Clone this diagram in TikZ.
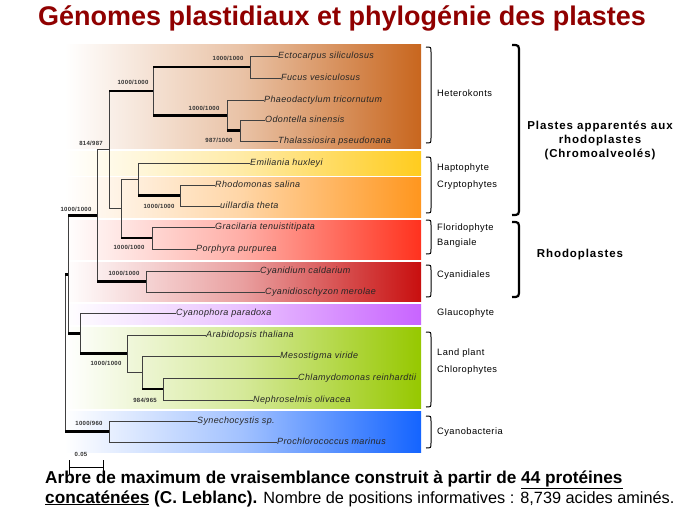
\documentclass[tikz,border=0pt]{standalone}
\usepackage{fontspec}
\setmainfont{Liberation Sans}
\newfontfamily\specfont[LetterSpace=4]{Liberation Sans}
\newfontfamily\grpfont[LetterSpace=5]{Liberation Sans}
\newfontfamily\bigfont[LetterSpace=8]{Liberation Sans}
\newfontfamily\supfont[LetterSpace=5]{Liberation Sans}
\usetikzlibrary{calc}
\definecolor{titlered}{HTML}{900000}
\definecolor{cHet}{HTML}{C8661E}
\definecolor{cHap}{HTML}{FFCC1E}
\definecolor{cCry}{HTML}{FF961E}
\definecolor{cFlo}{HTML}{FF321E}
\definecolor{cCyd}{HTML}{C80F0F}
\definecolor{cGla}{HTML}{C864FF}
\definecolor{cGrn}{HTML}{96C800}
\definecolor{cCyb}{HTML}{1464FF}
\definecolor{branch}{HTML}{404040}
\tikzset{
  band/.style={left color=white, right color=#1, middle color=#1!40!white},
  leaf/.style={font=\specfont\itshape\fontsize{9}{10}\selectfont, anchor=base west, inner sep=0pt, yshift=-2.5pt, text=black!85},
  sup/.style={font=\supfont\bfseries\fontsize{6}{7}\selectfont, inner sep=0pt, text=black!80},
  grp/.style={font=\grpfont\fontsize{9.3}{11}\selectfont, anchor=west, inner sep=0pt},
  bigl/.style={font=\bigfont\bfseries\fontsize{11.5}{14}\selectfont, align=center, inner sep=0pt},
  thk/.style={line width=2.6pt, black},
  thn/.style={line width=0.9pt, branch},
  vl/.style={line width=0.9pt, branch},
  brk/.style={line width=1pt, black},
  bigbrk/.style={line width=2.2pt, black},
}
\begin{document}
\begin{tikzpicture}[x=1pt,y=-1pt]
\useasboundingbox[fill=white] (0,0) rectangle (689,517);
% colour bands
\shade[band=cHet] (65,44) rectangle (421,148);
\shade[band=cHap] (65,151) rectangle (421,175);
\shade[band=cCry] (65,177) rectangle (421,217);
\shade[band=cFlo] (65,220) rectangle (421,259);
\shade[band=cCyd] (65,262) rectangle (421,301);
\shade[band=cGla] (65,304) rectangle (421,324);
\shade[band=cGrn] (65,327) rectangle (421,408);
\shade[band=cCyb] (65,411) rectangle (421,452);
% title
\node[font=\bfseries\fontsize{27}{30}\selectfont, text=titlered] (title) at (342,18) {Génomes plastidiaux et phylogénie des plastes};
% leaves
\coordinate (e1) at (278,56);  \node[leaf] (t1) at (e1) {Ectocarpus siliculosus};
\coordinate (e2) at (281,78);  \node[leaf] (t2) at (e2) {Fucus vesiculosus};
\coordinate (e3) at (264,100); \node[leaf] (t3) at (e3) {Phaeodactylum tricornutum};
\coordinate (e4) at (265,120); \node[leaf] (t4) at (e4) {Odontella sinensis};
\coordinate (e5) at (278,141); \node[leaf] (t5) at (e5) {Thalassiosira pseudonana};
\coordinate (e6) at (250,163); \node[leaf] (t6) at (e6) {Emiliania huxleyi};
\coordinate (e7) at (215,185); \node[leaf] (t7) at (e7) {Rhodomonas salina};
\coordinate (e8) at (220,206); \node[leaf] (t8) at (e8) {uillardia theta};
\coordinate (e9) at (215,227); \node[leaf] (t9) at (e9) {Gracilaria tenuistitipata};
\coordinate (e10) at (196,249); \node[leaf] (t10) at (e10) {Porphyra purpurea};
\coordinate (e11) at (260,271); \node[leaf] (t11) at (e11) {Cyanidium caldarium};
\coordinate (e12) at (265,292); \node[leaf] (t12) at (e12) {Cyanidioschyzon merolae};
\coordinate (e13) at (176,313); \node[leaf] (t13) at (e13) {Cyanophora paradoxa};
\coordinate (e14) at (206,335); \node[leaf] (t14) at (e14) {Arabidopsis thaliana};
\coordinate (e15) at (280,356); \node[leaf] (t15) at (e15) {Mesostigma viride};
\coordinate (e16) at (298,378); \node[leaf] (t16) at (e16) {Chlamydomonas reinhardtii};
\coordinate (e17) at (253,400); \node[leaf] (t17) at (e17) {Nephroselmis olivacea};
\coordinate (e18) at (197,421); \node[leaf] (t18) at (e18) {Synechocystis sp.};
\coordinate (e19) at (277,442); \node[leaf] (t19) at (e19) {Prochlorococcus marinus};
% internal nodes
\coordinate (nEF) at (250,67);
\coordinate (nOT) at (240,130.5);
\coordinate (nDi) at (227,115.25);
\coordinate (nHet) at (153,91.1);
\coordinate (nCr) at (180,195.5);
\coordinate (nHC) at (138,179.25);
\coordinate (nRh) at (152,238);
\coordinate (nHCR) at (121,208.6);
\coordinate (nA) at (109,149.9);
\coordinate (nCd) at (146,281.5);
\coordinate (nRed) at (97,215.7);
\coordinate (nCN) at (163,389);
\coordinate (nMCN) at (142,372.5);
\coordinate (nGr) at (127,353.75);
\coordinate (nGG) at (80,333.4);
\coordinate (nP) at (68,274.5);
\coordinate (nCy) at (109,431.5);
\coordinate (root) at (65,353);
% vertical lines
\draw[vl] (nEF |- e1) -- (nEF |- e2);
\draw[vl] (nOT |- e4) -- (nOT |- e5);
\draw[vl] (nDi |- e3) -- (nDi |- nOT);
\draw[vl] (nHet |- nEF) -- (nHet |- nDi);
\draw[vl] (nCr |- e7) -- (nCr |- e8);
\draw[vl] (nHC |- e6) -- (nHC |- nCr);
\draw[vl] (nRh |- e9) -- (nRh |- e10);
\draw[vl] (nHCR |- nHC) -- (nHCR |- nRh);
\draw[vl] (nA |- nHet) -- (nA |- nHCR);
\draw[vl] (nCd |- e11) -- (nCd |- e12);
\draw[vl] (nRed |- nA) -- (nRed |- nCd);
\draw[vl] (nCN |- e16) -- (nCN |- e17);
\draw[vl] (nMCN |- e15) -- (nMCN |- nCN);
\draw[vl] (nGr |- e14) -- (nGr |- nMCN);
\draw[vl] (nGG |- e13) -- (nGG |- nGr);
\draw[vl] (nP |- nRed) -- (nP |- nGG);
\draw[vl] (nCy |- e18) -- (nCy |- e19);
\draw[vl] (root |- nP) -- (root |- nCy);
% leaf branches
\foreach \p/\c in {nEF/e1,nEF/e2,nDi/e3,nOT/e4,nOT/e5,nHC/e6,nCr/e7,nCr/e8,nRh/e9,nRh/e10,nCd/e11,nCd/e12,nGG/e13,nGr/e14,nMCN/e15,nCN/e16,nCN/e17,nCy/e18,nCy/e19}
  \draw[thn] (\p |- \c) -- (\c);
% thin internal branches
\draw[thn] (nA |- nHCR) -- (nHCR);
\draw[thn] (nHCR |- nHC) -- (nHC);
\draw[thn] (nRed |- nA) -- (nA);
\draw[thn] (nGr |- nMCN) -- (nMCN);
% thick internal branches
\draw[thk] (nHet |- nEF) -- (nEF);
\draw[thk] (nHet |- nDi) -- (nDi);
\draw[thk] (nDi |- nOT) -- (nOT);
\draw[thk] (nA |- nHet) -- (nHet);
\draw[thk] (nHC |- nCr) -- (nCr);
\draw[thk] (nHCR |- nRh) -- (nRh);
\draw[thk] (nRed |- nCd) -- (nCd);
\draw[thk] (nP |- nRed) -- (nRed);
\draw[thk] (root |- nP) -- (nP);
\draw[thk] (nP |- nGG) -- (nGG);
\draw[thk] (nGG |- nGr) -- (nGr);
\draw[thk] (nMCN |- nCN) -- (nCN);
\draw[thk] (root |- nCy) -- (nCy);
% support values
\node[sup] (sEF) at (228,58) {1000/1000};
\node[sup] (sHet) at (133,82) {1000/1000};
\node[sup] (sDi) at (204,108) {1000/1000};
\node[sup] (sOT) at (219,140) {987/1000};
\node[sup] (sA) at (91,143) {814/987};
\node[sup] (sCr) at (159,206) {1000/1000};
\node[sup] (sRed) at (76,209) {1000/1000};
\node[sup] (sRh) at (129,247) {1000/1000};
\node[sup] (sCd) at (124,273) {1000/1000};
\node[sup] (sGr) at (106,363) {1000/1000};
\node[sup] (sCN) at (145,400) {984/965};
\node[sup] (sCy) at (89,423) {1000/960};
% scale bar
\node[sup] (scl) at (81,454) {0.05};
\coordinate (sb1) at (69,467); \coordinate (sb2) at (103,467);
\draw[line width=0.8pt] (sb1) -- (sb2);
\draw[line width=0.8pt] ($(sb1)+(0,-7)$) -- ($(sb1)+(0,8)$);
\draw[line width=0.8pt] ($(sb2)+(0,-7)$) -- ($(sb2)+(0,8)$);
% small brackets
\foreach \a/\b in {47/143,157/213,220/254,265/297,332/407,416/448}
  \draw[brk] (426,\a) .. controls (431,\a) .. (431,\a+5) -- (431,\b-5) .. controls (431,\b) .. (426,\b);
% group labels
\node[grp] (gHet) at (437,93) {Heterokonts};
\node[grp] (gHap) at (437,168) {Haptophyte};
\node[grp] (gCry) at (437,185) {Cryptophytes};
\node[grp] (gFlo) at (437,228) {Floridophyte};
\node[grp] (gBan) at (437,243) {Bangiale};
\node[grp] (gCyd) at (437,275) {Cyanidiales};
\node[grp] (gGla) at (437,313) {Glaucophyte};
\node[grp] (gLan) at (437,353) {Land plant};
\node[grp] (gChl) at (437,370) {Chlorophytes};
\node[grp] (gCyb) at (437,432) {Cyanobacteria};
% big brackets
\draw[bigbrk] (512,45) .. controls (519,45) .. (519,53) -- (519,207) .. controls (519,215) .. (512,215);
\draw[bigbrk] (512,222) .. controls (519,222) .. (519,230) -- (519,289) .. controls (519,297) .. (512,297);
\node[bigl] (bChr) at (600,140) {Plastes apparentés aux\\rhodoplastes\\(Chromoalveolés)};
\node[bigl] (bRho) at (580,255) {Rhodoplastes};
% caption
\node[anchor=base west, inner sep=0pt, font=\bfseries\fontsize{17.2}{19}\selectfont] (cap1) at (45,483) {Arbre de maximum de vraisemblance construit à partir de \underline{44 protéines}};
\node[anchor=base west, inner sep=0pt, font=\fontsize{16.3}{19}\selectfont] (cap2) at (45,503) {{\fontsize{17.2}{19}\selectfont\bfseries\underline{concaténées} (C. Leblanc).} Nombre de positions informatives : 8,739 acides aminés.};
\end{tikzpicture}
\end{document}
